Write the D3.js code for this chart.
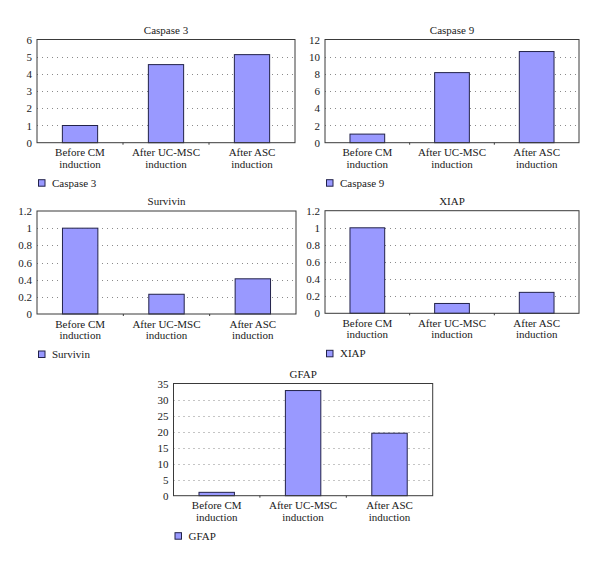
<!DOCTYPE html>
<html><head><meta charset="utf-8">
<script src="https://cdn.jsdelivr.net/npm/d3@7"></script>
<style>
html,body{margin:0;padding:0;background:#fff;}
svg{display:block;}
</style></head>
<body>
<script>
// ---- data ----
const categories = [["Before CM","induction"],["After UC-MSC","induction"],["After ASC","induction"]];
const titles = ["Caspase 3","Caspase 9","Survivin","XIAP","GFAP"];
const caspase3 = [1.0, 4.54, 5.12];
const caspase9 = [1.0, 8.15, 10.6];
const survivin = [1.0, 0.23, 0.41];
const xiap = [1.0, 0.115, 0.245];
const gfap = [1.05, 32.8, 19.5];
const ticksCaspase3 = [0,1,2,3,4,5,6];
const ticksCaspase9 = [0,2,4,6,8,10,12];
const ticksSurvivin = [0,0.2,0.4,0.6,0.8,1,1.2];
const ticksXiap = [0,0.2,0.4,0.6,0.8,1,1.2];
const ticksGfap = [0,5,10,15,20,25,30,35];

// ---- layout ----
const FONT = "'Liberation Serif', 'Times New Roman', serif";
const panels = [
  {title: titles[0], values: caspase3, ticks: ticksCaspase3, x0: 37, x1: 295, y0: 39.5, y1: 142.7},
  {title: titles[1], values: caspase9, ticks: ticksCaspase9, x0: 325, x1: 579, y0: 39.5, y1: 142.7},
  {title: titles[2], values: survivin, ticks: ticksSurvivin, x0: 37, x1: 296, y0: 211, y1: 314},
  {title: titles[3], values: xiap, ticks: ticksXiap, x0: 325, x1: 579, y0: 210.7, y1: 313.3},
  {title: titles[4], values: gfap, ticks: ticksGfap, x0: 173.5, x1: 432.7, y0: 383.5, y1: 495.7}
];

const svg = d3.select("body").append("svg").attr("width",600).attr("height",564)
  .style("font-family", FONT);

panels.forEach(p => {
  const g = svg.append("g");
  const x = d3.scaleBand().domain(d3.range(categories.length)).range([p.x0, p.x1]).padding(0);
  const y = d3.scaleLinear().domain([0, d3.max(p.ticks)]).range([p.y1, p.y0]);
  const bw = x.bandwidth() * 0.41;

  // gridlines
  g.selectAll("line.grid").data(p.ticks.slice(1, -1)).join("line")
    .attr("x1", p.x0).attr("x2", p.x1)
    .attr("y1", d => Math.round(y(d)) + 0.5).attr("y2", d => Math.round(y(d)) + 0.5)
    .attr("stroke", "#8a8a8a").attr("stroke-width", 1).attr("stroke-dasharray", "1,4");

  // bars
  g.selectAll("rect.bar").data(p.values).join("rect")
    .attr("x", (d, i) => x(i) + (x.bandwidth() - bw) / 2)
    .attr("width", bw)
    .attr("y", d => y(d))
    .attr("height", d => y(0) - y(d))
    .attr("fill", "#9999ff").attr("stroke", "#22224a").attr("stroke-width", 1);

  // frame
  g.append("rect").attr("x", p.x0).attr("y", p.y0)
    .attr("width", p.x1 - p.x0).attr("height", p.y1 - p.y0)
    .attr("fill", "none").attr("stroke", "#3a3a3a").attr("stroke-width", 1);

  // y axis labels
  const yAxis = d3.axisLeft(y).tickValues(p.ticks).tickSize(0).tickPadding(5).tickFormat(d => String(d));
  const ya = g.append("g").attr("transform", `translate(${p.x0},0)`).call(yAxis);
  ya.select(".domain").remove();
  ya.attr("font-family", null);
  ya.selectAll("text").attr("font-size", 11).style("font-family", FONT).attr("fill", "#1a1a1a");

  // x axis small ticks at band boundaries
  g.selectAll("line.xt").data(d3.range(1, categories.length)).join("line")
    .attr("x1", i => x(i)).attr("x2", i => x(i))
    .attr("y1", p.y1).attr("y2", p.y1 + 2)
    .attr("stroke", "#3a3a3a");

  // x labels
  categories.forEach((c, i) => {
    const t = g.append("text").attr("text-anchor", "middle")
      .attr("x", x(i) + x.bandwidth() / 2).attr("y", p.y1 + 13.5)
      .attr("font-size", 11).style("font-family", FONT).attr("fill", "#1a1a1a");
    c.forEach((line, k) => t.append("tspan").attr("x", x(i) + x.bandwidth() / 2).attr("dy", k === 0 ? 0 : 11.3).text(line));
  });

  // title
  g.append("text").attr("text-anchor", "middle")
    .attr("x", (p.x0 + p.x1) / 2).attr("y", p.y0 - 6)
    .attr("font-size", 11).style("font-family", FONT).attr("fill", "#1a1a1a").text(p.title);

  // legend
  const ly = p.y1 + 37;
  g.append("rect").attr("x", p.x0 + 1.5).attr("y", ly).attr("width", 6.5).attr("height", 6.5)
    .attr("fill", "#9999ff").attr("stroke", "#22224a").attr("stroke-width", 1);
  g.append("text").attr("x", p.x0 + 15).attr("y", ly + 7).attr("font-size", 11)
    .style("font-family", FONT).attr("fill", "#1a1a1a").text(p.title);
});
</script>
</body></html>
